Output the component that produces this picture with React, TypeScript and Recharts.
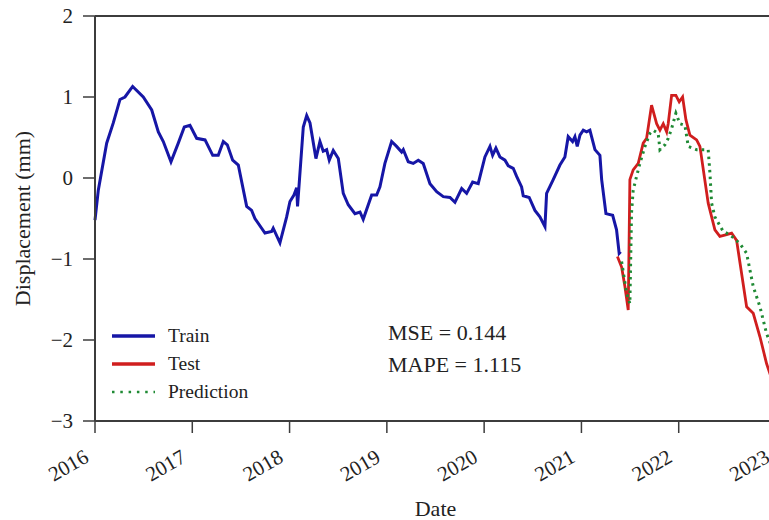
import { LineChart, Line, XAxis, YAxis, ReferenceLine } from "recharts";

const FONT = "'Liberation Serif', 'Times New Roman', serif";
const INK = "#222";
const AXIS = "#3c3c3c";

const TRAIN_COLOR = "#1616a6";
const TEST_COLOR = "#d01e1e";
const PRED_COLOR = "#1f8a34";

// decimal years on the x axis, displacement in mm on the y axis
const yearTicks = [2016, 2017, 2018, 2019, 2020, 2021, 2022, 2023];
const mmTicks = [-3, -2, -1, 0, 1, 2];

const trainDates = [
  2016.0, 2016.034, 2016.12, 2016.188, 2016.257, 2016.308, 2016.387, 2016.496, 2016.583,
  2016.651, 2016.702, 2016.781, 2016.856, 2016.918, 2016.976, 2017.045, 2017.131, 2017.21,
  2017.267, 2017.319, 2017.36, 2017.415, 2017.473, 2017.559, 2017.61, 2017.644, 2017.747,
  2017.816, 2017.832, 2017.901, 2017.97, 2018.004, 2018.045, 2018.073, 2018.082, 2018.141,
  2018.176, 2018.21, 2018.271, 2018.312, 2018.346, 2018.381, 2018.408, 2018.449, 2018.501,
  2018.552, 2018.603, 2018.672, 2018.724, 2018.757, 2018.844, 2018.895, 2018.929, 2018.98,
  2019.049, 2019.1, 2019.152, 2019.169, 2019.22, 2019.271, 2019.323, 2019.374, 2019.443,
  2019.512, 2019.58, 2019.649, 2019.7, 2019.769, 2019.82, 2019.882, 2019.939, 2020.008,
  2020.06, 2020.087, 2020.121, 2020.162, 2020.214, 2020.248, 2020.299, 2020.334, 2020.385,
  2020.402, 2020.463, 2020.522, 2020.573, 2020.625, 2020.642, 2020.71, 2020.779, 2020.83,
  2020.864, 2020.909, 2020.933, 2020.957, 2020.985, 2021.019, 2021.053, 2021.087, 2021.139,
  2021.19, 2021.208, 2021.252, 2021.321, 2021.361, 2021.388, 2021.403,
];
const trainValues = [
  -0.52, -0.15, 0.43, 0.68, 0.97, 1.0, 1.13, 1.0, 0.84,
  0.57, 0.45, 0.2, 0.43, 0.63, 0.65, 0.49, 0.47, 0.28,
  0.28, 0.45, 0.41, 0.22, 0.16, -0.35, -0.4, -0.5, -0.68,
  -0.66, -0.62, -0.8, -0.48, -0.29, -0.21, -0.12, -0.35, 0.63,
  0.77, 0.68, 0.24, 0.45, 0.33, 0.35, 0.22, 0.34, 0.24,
  -0.19, -0.33, -0.44, -0.42, -0.51, -0.21, -0.21, -0.11, 0.18,
  0.45, 0.39, 0.32, 0.35, 0.2, 0.18, 0.22, 0.18, -0.07,
  -0.17, -0.23, -0.24, -0.3, -0.13, -0.19, -0.05, -0.07, 0.26,
  0.39, 0.28, 0.37, 0.26, 0.22, 0.15, 0.12, 0.02, -0.11,
  -0.22, -0.24, -0.4, -0.48, -0.6, -0.19, -0.02, 0.16, 0.26,
  0.51, 0.45, 0.51, 0.39, 0.53, 0.59, 0.57, 0.59, 0.35,
  0.28, -0.02, -0.44, -0.46, -0.64, -0.93, -0.91,
];

const testDates = [
  2021.37, 2021.413, 2021.447, 2021.481, 2021.498, 2021.532, 2021.584, 2021.635, 2021.67,
  2021.721, 2021.773, 2021.807, 2021.841, 2021.876, 2021.892, 2021.927, 2021.971, 2022.005,
  2022.04, 2022.074, 2022.115, 2022.184, 2022.218, 2022.303, 2022.372, 2022.423, 2022.492,
  2022.544, 2022.595, 2022.698, 2022.766, 2022.835, 2022.903, 2023.0,
];
const testValues = [
  -0.97, -1.1, -1.34, -1.63, -0.02, 0.1, 0.18, 0.43, 0.49,
  0.9, 0.67, 0.59, 0.67, 0.57, 0.67, 1.02, 1.02, 0.94,
  1.0, 0.72, 0.53, 0.47, 0.39, -0.31, -0.64, -0.72, -0.7,
  -0.68, -0.77, -1.59, -1.67, -1.96, -2.29, -2.64,
];

const predDates = [
  2021.413, 2021.464, 2021.498, 2021.515, 2021.532, 2021.567, 2021.601, 2021.653, 2021.704,
  2021.738, 2021.789, 2021.807, 2021.858, 2021.892, 2021.927, 2021.971, 2022.012, 2022.064,
  2022.098, 2022.184, 2022.252, 2022.303, 2022.321, 2022.338, 2022.372, 2022.457, 2022.526,
  2022.629, 2022.698, 2022.766, 2022.835, 2022.903, 2023.0,
];
const predValues = [
  -1.03, -1.42, -1.55, -0.43, -0.15, 0.02, 0.18, 0.39, 0.55,
  0.59, 0.55, 0.35, 0.41, 0.49, 0.61, 0.8, 0.67, 0.65,
  0.39, 0.35, 0.35, 0.35, 0.06, -0.31, -0.48, -0.66, -0.7,
  -0.81, -0.93, -1.34, -1.59, -1.92, -2.22,
];

const toSeries = (dates: number[], values: number[]) =>
  dates.map((t, i) => ({ t, v: values[i] }));

const trainData = toSeries(trainDates, trainValues);
const testData = toSeries(testDates, testValues);
const predData = toSeries(predDates, predValues);

const legendItems = [
  { name: "Train", color: TRAIN_COLOR, dotted: false },
  { name: "Test", color: TEST_COLOR, dotted: false },
  { name: "Prediction", color: PRED_COLOR, dotted: true },
];

const metrics = ["MSE = 0.144", "MAPE = 1.115"];

const minus = (v: number) => String(v).replace("-", "\u2212");

function YearTick({ x, y, payload }: any) {
  return (
    <g transform={`translate(${x - 5},${y + 26})`}>
      <text
        x={0}
        y={0}
        textAnchor="end"
        transform="rotate(-30)"
        fontFamily={FONT}
        fontSize={21}
        fill={INK}
      >
        {payload.value}
      </text>
    </g>
  );
}

function LegendBox() {
  return (
    <div style={{ position: "absolute", left: 112, top: 322, fontFamily: FONT, fontSize: 19.5, color: INK }}>
      {legendItems.map((it) => (
        <div key={it.name} style={{ display: "flex", alignItems: "center", height: 28 }}>
          <svg width={43} height={8} style={{ marginRight: 13 }}>
            <line
              x1={0}
              y1={4}
              x2={43}
              y2={4}
              stroke={it.color}
              strokeWidth={it.dotted ? 2.5 : 3.5}
              strokeDasharray={it.dotted ? "2.5 5.8" : undefined}
            />
          </svg>
          <span>{it.name}</span>
        </div>
      ))}
    </div>
  );
}

export default function App() {
  return (
    <div style={{ position: "absolute", left: 0, top: 0, width: 769, height: 520, overflow: "hidden", background: "#fff" }}>
      <LineChart width={800} height={520} margin={{ top: 16, right: 24, bottom: 0, left: 0 }}>
        <XAxis
          xAxisId={0}
          type="number"
          dataKey="t"
          domain={[2016, 2023]}
          ticks={yearTicks}
          height={99}
          tickSize={12}
          tick={<YearTick />}
          axisLine={{ stroke: AXIS, strokeWidth: 2 }}
          tickLine={{ stroke: AXIS, strokeWidth: 1.5 }}
          label={{ value: "Date", position: "insideBottom", offset: 4, fontFamily: FONT, fontSize: 22, fill: INK }}
        />
        <YAxis
          type="number"
          domain={[-3, 2]}
          ticks={mmTicks}
          width={95}
          tickSize={12}
          tickMargin={10}
          tickFormatter={minus}
          tick={{ fontFamily: FONT, fontSize: 21, fill: INK }}
          axisLine={{ stroke: AXIS, strokeWidth: 2 }}
          tickLine={{ stroke: AXIS, strokeWidth: 1.5 }}
          label={{
            value: "Displacement (mm)",
            angle: -90,
            position: "insideLeft",
            offset: 22,
            style: { textAnchor: "middle" },
            fontFamily: FONT,
            fontSize: 22,
            fill: INK,
          }}
        />
        <ReferenceLine y={2} stroke={AXIS} strokeWidth={2} />
        <Line
          data={trainData}
          dataKey="v"
          type="linear"
          stroke={TRAIN_COLOR}
          strokeWidth={3}
          dot={false}
          isAnimationActive={false}
        />
        <Line
          data={testData}
          dataKey="v"
          type="linear"
          stroke={TEST_COLOR}
          strokeWidth={2.8}
          dot={false}
          isAnimationActive={false}
        />
        <Line
          data={predData}
          dataKey="v"
          type="linear"
          stroke={PRED_COLOR}
          strokeWidth={3}
          strokeDasharray="2.5 4.2"
          dot={false}
          isAnimationActive={false}
        />
      </LineChart>
      <LegendBox />
      {metrics.map((m, i) => (
        <div
          key={m}
          style={{
            position: "absolute",
            left: 388,
            top: 321.5 + i * 32,
            lineHeight: "22px",
            fontFamily: FONT,
            fontSize: 22,
            color: INK,
            whiteSpace: "nowrap",
          }}
        >
          {m}
        </div>
      ))}
    </div>
  );
}
